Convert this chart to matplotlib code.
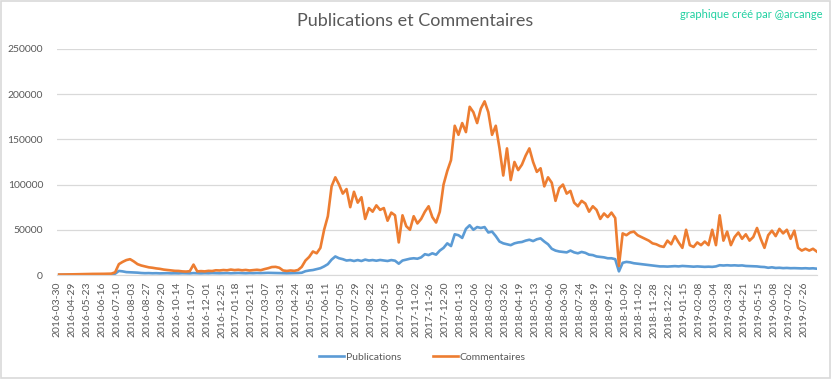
import matplotlib.pyplot as plt
from matplotlib.patches import Rectangle

# tick labels shown on the category axis (one label every 24 days of data)
date_labels = [
    "2016-03-30", "2016-04-29", "2016-05-23", "2016-06-16", "2016-07-10", "2016-08-03",
    "2016-08-27", "2016-09-20", "2016-10-14", "2016-11-07", "2016-12-01", "2016-12-25",
    "2017-01-18", "2017-02-11", "2017-03-07", "2017-03-31", "2017-04-24", "2017-05-18",
    "2017-06-11", "2017-07-05", "2017-07-29", "2017-08-22", "2017-09-15", "2017-10-09",
    "2017-11-02", "2017-11-26", "2017-12-20", "2018-01-13", "2018-02-06", "2018-03-02",
    "2018-03-26", "2018-04-19", "2018-05-13", "2018-06-06", "2018-06-30", "2018-07-24",
    "2018-08-19", "2018-09-12", "2018-10-09", "2018-11-02", "2018-11-28", "2018-12-22",
    "2019-01-15", "2019-02-08", "2019-03-04", "2019-03-28", "2019-04-21", "2019-05-15",
    "2019-06-08", "2019-07-02", "2019-07-26",
]
n_days = 1222
step = 6  # one value every 6 days

# values in thousands
commentaires = [
    0.5, 0.5, 0.6, 0.7, 0.8, 0.9, 1.0, 1.0, 1.1, 1.2, 1.2, 1.3, 1.3, 1.4, 1.5,
    3.0, 12.0, 14.5, 16.5, 17.5, 15.0, 12.0, 10.5, 9.5, 8.5, 8.0, 7.3, 6.8, 6.0, 5.5,
    5.0, 4.6, 4.5, 4.0, 3.8, 4.2, 11.5, 4.0, 4.3, 4.0, 4.6, 4.4, 5.2, 5.0, 5.5,
    5.2, 6.0, 5.4, 5.8, 5.2, 5.6, 5.0, 5.4, 5.8, 5.3, 6.5, 7.5, 8.8, 9.0, 8.0,
    5.0, 4.5, 5.0, 4.6, 5.5, 9.0, 16.0, 20.0, 26.0, 24.0, 30.0, 50.0, 65.0, 98.0, 108.0,
    100.0, 90.0, 95.0, 75.0, 92.0, 80.0, 86.0, 62.0, 74.0, 70.0, 77.0, 72.0, 74.0, 60.0, 69.0,
    66.0, 36.0, 66.0, 54.0, 50.0, 65.0, 57.0, 62.0, 70.0, 76.0, 64.0, 58.0, 70.0, 100.0, 115.0,
    127.0, 165.0, 155.0, 168.0, 158.0, 186.0, 180.0, 168.0, 184.0, 192.0, 180.0, 155.0, 165.0, 140.0, 110.0,
    140.0, 105.0, 125.0, 116.0, 122.0, 132.0, 140.0, 125.0, 114.0, 118.0, 98.0, 108.0, 102.0, 82.0, 96.0,
    100.0, 90.0, 93.0, 80.0, 76.0, 82.0, 79.0, 70.0, 76.0, 72.0, 62.0, 68.0, 64.0, 69.0, 63.0,
    10.0, 46.0, 44.0, 47.0, 48.0, 44.0, 42.0, 40.0, 38.0, 35.0, 34.0, 32.0, 31.0, 38.0, 34.0,
    43.0, 36.0, 30.0, 50.0, 33.0, 31.0, 36.0, 33.0, 37.0, 33.0, 50.0, 33.0, 66.0, 38.0, 48.0,
    33.0, 42.0, 47.0, 40.0, 45.0, 38.0, 42.0, 52.0, 40.0, 30.0, 44.0, 49.0, 43.0, 51.0, 46.0,
    50.0, 40.0, 49.0, 30.0, 27.0, 29.0, 27.0, 29.0, 26.0,
]
publications = [
    0.2, 0.2, 0.2, 0.3, 0.3, 0.3, 0.4, 0.4, 0.4, 0.5, 0.5, 0.5, 0.6, 0.6, 0.7,
    1.5, 4.5, 4.0, 3.2, 3.0, 2.8, 2.6, 2.2, 2.0, 2.1, 1.9, 2.0, 1.8, 1.9, 2.0,
    1.8, 1.9, 1.8, 2.0, 1.9, 1.8, 2.1, 1.9, 1.8, 2.0, 1.9, 2.1, 2.0, 1.9, 2.0,
    2.1, 1.9, 2.0, 2.2, 2.0, 1.9, 2.1, 2.0, 2.2, 2.1, 2.3, 2.4, 2.3, 2.2, 2.1,
    2.0, 1.9, 2.0, 2.1, 2.2, 2.5, 4.2, 5.0, 5.5, 6.5, 7.5, 9.5, 12.0, 17.0, 20.5,
    18.5, 17.5, 16.0, 16.5, 15.5, 16.5, 15.5, 17.0, 16.0, 16.5, 15.8, 16.6, 16.0, 15.5, 16.5,
    15.8, 12.5, 16.0, 17.0, 18.0, 18.5, 18.0, 19.5, 23.0, 22.0, 24.0, 22.5, 27.0, 30.0, 35.0,
    32.0, 45.0, 44.0, 41.0, 51.0, 55.0, 50.0, 53.0, 52.0, 53.0, 47.0, 48.0, 43.0, 37.0, 35.0,
    34.0, 33.0, 35.0, 36.0, 36.5, 38.0, 39.0, 37.5, 39.5, 40.5, 37.0, 34.0, 29.0, 27.0, 26.0,
    25.5, 25.0, 27.0, 25.0, 24.0, 25.5, 24.5, 22.5, 22.0, 20.5, 20.0, 19.5, 18.5, 18.5, 17.5,
    4.0, 13.5, 14.5, 14.0, 13.0, 12.5, 12.0, 11.5, 11.0, 10.5, 10.0, 9.5, 9.5, 9.3, 9.5,
    9.8, 9.5, 10.0, 9.8, 9.5, 9.2, 9.5, 9.2, 9.0, 9.2, 9.0, 9.5, 10.8, 10.5, 10.8,
    10.5, 10.7, 10.4, 10.6, 10.0, 9.8, 9.6, 9.5, 9.0, 8.8, 8.0, 8.5, 7.8, 8.0, 7.6,
    7.8, 7.5, 7.6, 7.4, 7.3, 7.5, 7.2, 7.4, 7.0,
]

pos = [step * k + 3 for k in range(len(commentaires))]
com = [v * 1000 for v in commentaires]
pub = [v * 1000 for v in publications]

plt.rcParams['font.family'] = ['Lato', 'DejaVu Sans']
fig = plt.figure(figsize=(8.32, 3.79), dpi=100)
ax = fig.add_axes([0.0685, 0.2744, 0.9135, 0.5966])

ax.plot(pos, pub, color='#5B9BD5', linewidth=1.9, label='Publications')
ax.plot(pos, com, color='#ED7D31', linewidth=1.9, label='Commentaires')

ax.set_xlim(-0.5, n_days - 0.5)
ax.set_ylim(0, 250000)
ax.set_yticks(range(0, 250001, 50000))
ax.set_yticklabels([str(v) for v in range(0, 250001, 50000)])
ax.set_xticks([24 * j for j in range(len(date_labels))])
ax.set_xticklabels(date_labels, rotation=90)
ax.tick_params(axis='both', length=0, labelsize=7.5, labelcolor='#595959')
ax.tick_params(axis='y', pad=10)
ax.tick_params(axis='x', pad=5)
ax.grid(axis='y', color='#D9D9D9', linewidth=0.9)
ax.set_axisbelow(True)
for s in ['top', 'right', 'left']:
    ax.spines[s].set_visible(False)
ax.spines['bottom'].set_color('#D9D9D9')

fig.text(0.499, 0.945, 'Publications et Commentaires', ha='center', va='center',
         fontsize=13, color='#595959')
fig.text(0.989, 0.962, 'graphique créé par @arcange', ha='right', va='center',
         fontsize=8, color='#1FD0A0')

fig.legend(loc='center', bbox_to_anchor=(0.508, 0.058), ncol=2, frameon=False,
           fontsize=7.5, labelcolor='#595959', handlelength=2.4, columnspacing=3.0,
           handletextpad=0.2)

fig.patches.append(Rectangle((0.001, 0.002), 0.997, 0.995, transform=fig.transFigure,
                             fill=False, edgecolor='#D9D9D9', linewidth=1.2))

fig.savefig('out.png', dpi=100)
